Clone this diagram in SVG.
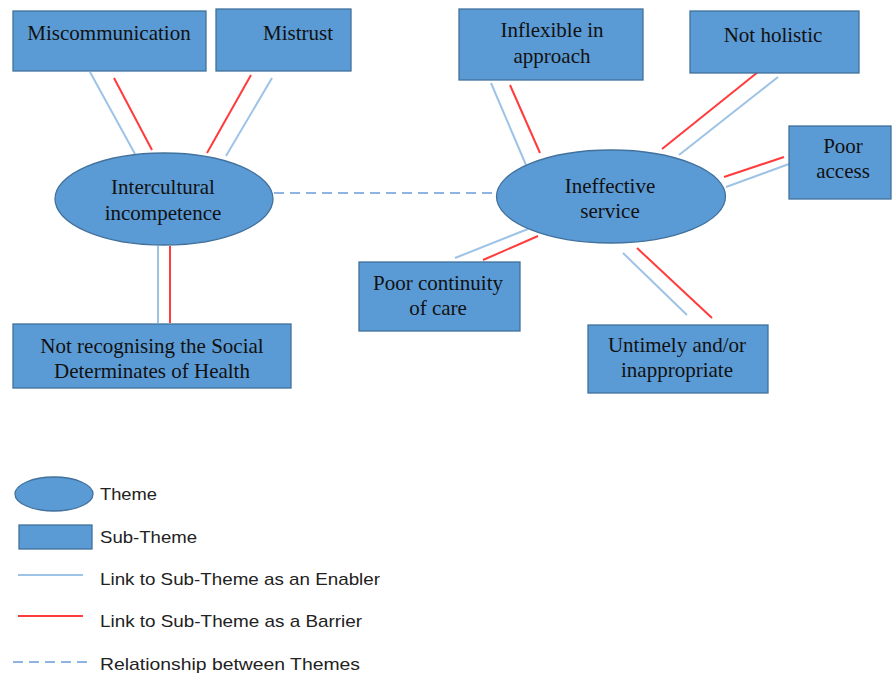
<svg xmlns="http://www.w3.org/2000/svg" width="893" height="673" viewBox="0 0 893 673">
<style>
.box{fill:#5B9BD5;stroke:#41719C;stroke-width:1.3}
.t{font-family:"Liberation Serif","Times New Roman",serif;font-size:21px;fill:#111;text-anchor:middle}
.lg{font-family:"Liberation Sans",Arial,sans-serif;font-size:17px;fill:#222}
.en{stroke:#9DC3E6;stroke-width:2;fill:none}
.ba{stroke:#FF3B3B;stroke-width:2;fill:none}
.rel{stroke:#8FB4E3;stroke-width:2;stroke-dasharray:10 6;fill:none}
</style>
<rect width="893" height="673" fill="#fff"/>
<g id="connectors">
<line class="en" x1="90" y1="72" x2="135" y2="154"/>
<line class="ba" x1="114" y1="78" x2="152" y2="150"/>
<line class="ba" x1="251" y1="75" x2="207" y2="153"/>
<line class="en" x1="272" y1="78" x2="226" y2="156"/>
<line class="en" x1="158" y1="246" x2="158" y2="323"/>
<line class="ba" x1="170" y1="246" x2="170" y2="323"/>
<line class="rel" x1="274" y1="193" x2="497" y2="193"/>
<line class="en" x1="491" y1="83" x2="526" y2="165"/>
<line class="ba" x1="510" y1="85" x2="540" y2="153"/>
<line class="ba" x1="758" y1="72" x2="662" y2="149"/>
<line class="en" x1="778" y1="77" x2="679" y2="155"/>
<line class="ba" x1="784" y1="157" x2="724" y2="177"/>
<line class="en" x1="789" y1="164" x2="726" y2="187"/>
<line class="en" x1="455" y1="258" x2="528" y2="229"/>
<line class="ba" x1="483" y1="260" x2="538" y2="236"/>
<line class="en" x1="623" y1="253" x2="687" y2="315"/>
<line class="ba" x1="637" y1="248" x2="712" y2="318"/>
</g>
<g id="miscommunication"><rect class="box" x="13" y="11" width="193" height="60"/><text class="t" x="109" y="40">Miscommunication</text></g>
<g id="mistrust"><rect class="box" x="216" y="9" width="135" height="62"/><text class="t" x="298" y="40">Mistrust</text></g>
<g id="intercultural"><ellipse class="box" cx="164" cy="199" rx="109" ry="46"/><text class="t" x="163" y="194">Intercultural</text><text class="t" x="163" y="220">incompetence</text></g>
<g id="social"><rect class="box" x="13" y="324" width="278" height="64"/><text class="t" x="152" y="353">Not recognising the Social</text><text class="t" x="152" y="378">Determinates of Health</text></g>
<g id="inflexible"><rect class="box" x="459" y="9" width="184" height="71"/><text class="t" x="552" y="37">Inflexible in</text><text class="t" x="552" y="63">approach</text></g>
<g id="holistic"><rect class="box" x="690" y="11" width="169" height="62"/><text class="t" x="773" y="42">Not holistic</text></g>
<g id="access"><rect class="box" x="789" y="126" width="102" height="73"/><text class="t" x="843" y="153">Poor</text><text class="t" x="843" y="178">access</text></g>
<g id="ineffective"><ellipse class="box" cx="611" cy="196.5" rx="114.5" ry="46.5"/><text class="t" x="610" y="193">Ineffective</text><text class="t" x="610" y="218">service</text></g>
<g id="continuity"><rect class="box" x="359" y="262" width="161" height="69"/><text class="t" x="438" y="290">Poor continuity</text><text class="t" x="438" y="315">of care</text></g>
<g id="untimely"><rect class="box" x="588" y="325" width="180" height="68"/><text class="t" x="677" y="352">Untimely and/or</text><text class="t" x="677" y="377">inappropriate</text></g>
<g id="legend">
<ellipse class="box" cx="54" cy="494" rx="39" ry="17"/><text class="lg" x="100" y="500" textLength="57" lengthAdjust="spacingAndGlyphs">Theme</text>
<rect class="box" x="19" y="525" width="73" height="24"/><text class="lg" x="100" y="543" textLength="97" lengthAdjust="spacingAndGlyphs">Sub-Theme</text>
<line class="en" x1="18" y1="575" x2="83" y2="575"/><text class="lg" x="100" y="585" textLength="280" lengthAdjust="spacingAndGlyphs">Link to Sub-Theme as an Enabler</text>
<line class="ba" x1="18" y1="616" x2="83" y2="616"/><text class="lg" x="100" y="627" textLength="262" lengthAdjust="spacingAndGlyphs">Link to Sub-Theme as a Barrier</text>
<line class="rel" x1="13" y1="662" x2="88" y2="662"/><text class="lg" x="100" y="670" textLength="260" lengthAdjust="spacingAndGlyphs">Relationship between Themes</text>
</g>
</svg>
